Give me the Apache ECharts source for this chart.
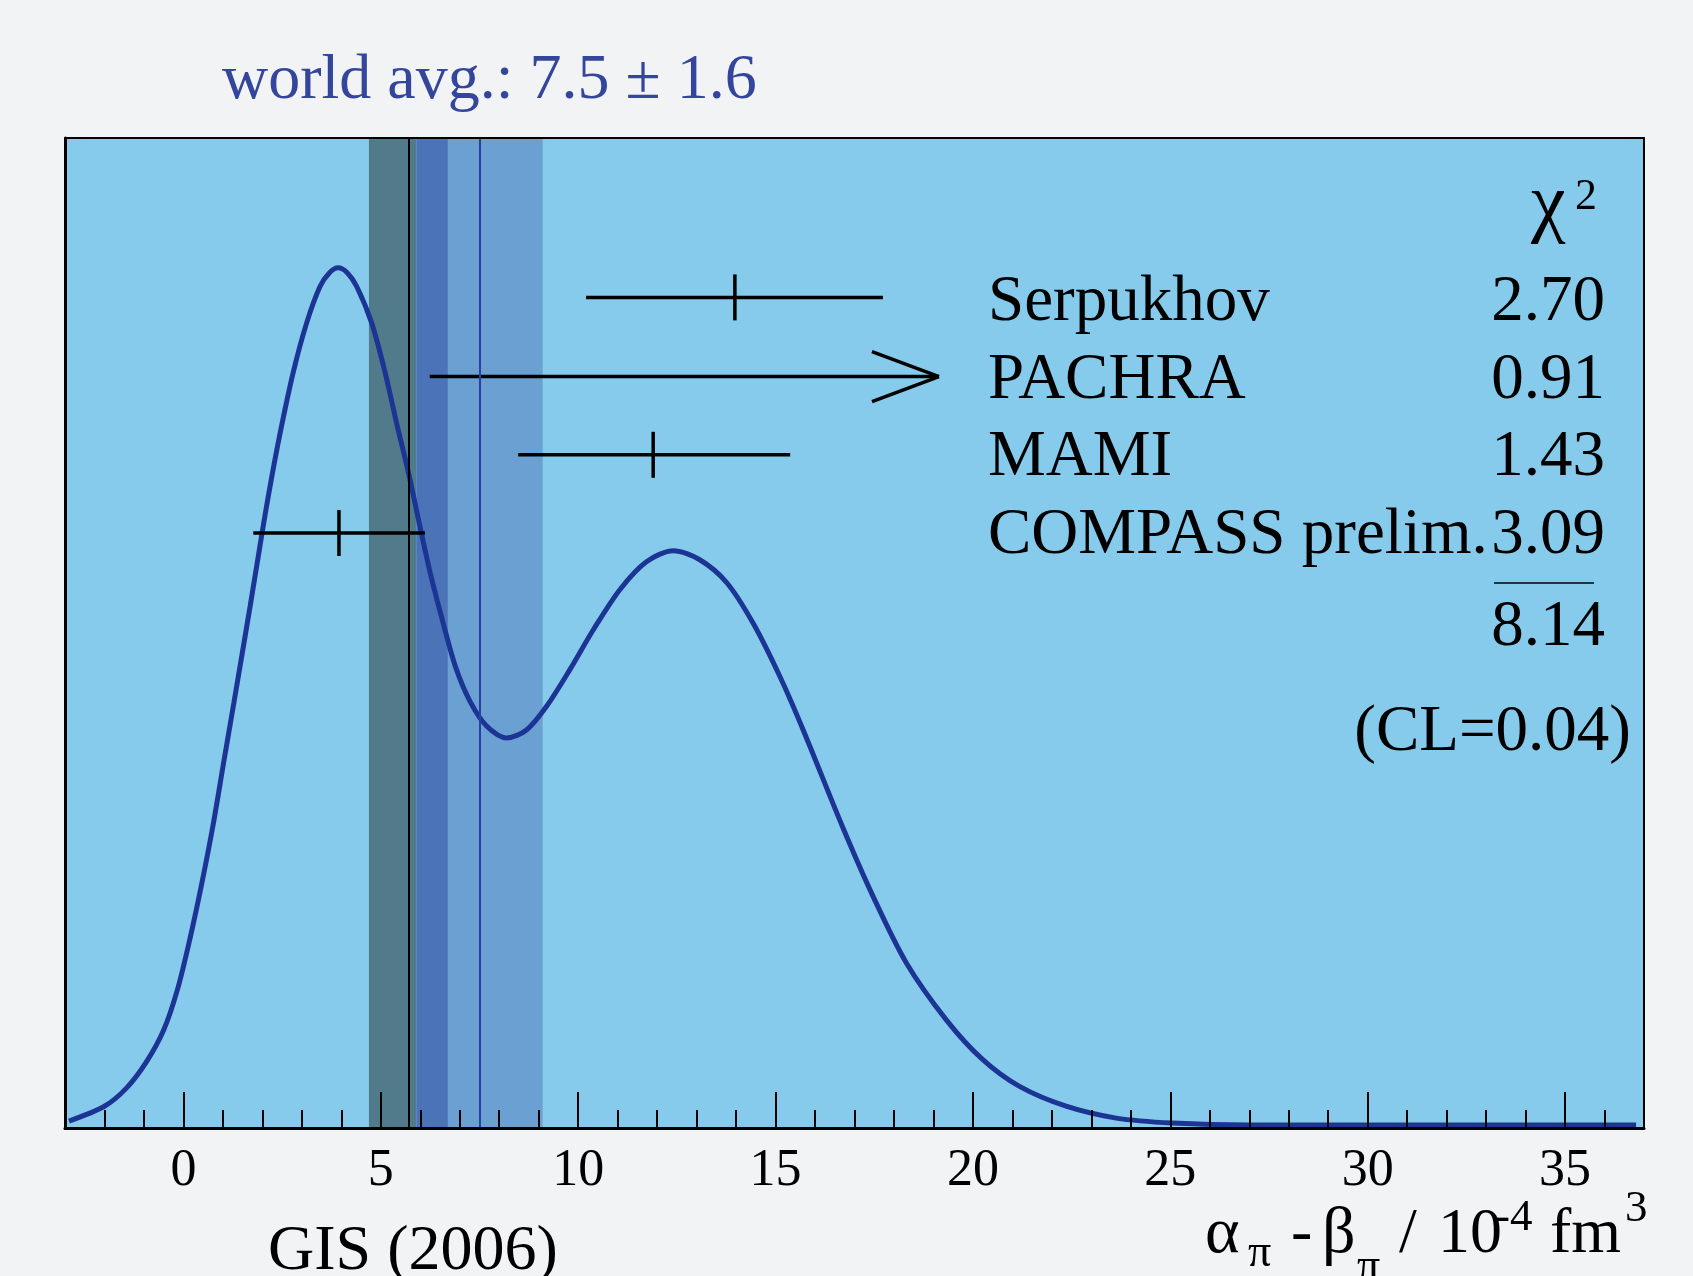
<!DOCTYPE html>
<html>
<head>
<meta charset="utf-8">
<title>alpha - beta, GIS (2006)</title>
<script src="https://cdn.jsdelivr.net/npm/echarts@6/dist/echarts.min.js"></script>
<style>
  html, body { margin: 0; padding: 0; background: #f2f3f5; }
  #chart { width: 1693px; height: 1276px; }
</style>
</head>
<body>
<div id="chart"></div>
<script>
// frame range
const xMin = -3
const xMax = 37

// probability curve
const curveX = [-2.9, -2.0, -1.45, -0.95, -0.5, -0.15, 0.17, 0.47, 0.76, 1.01, 1.28, 1.69, 1.98, 2.18, 2.45, 2.78, 3.12, 3.46, 3.7, 3.92, 4.15, 4.39, 4.77, 5.11, 5.4, 5.7, 5.99, 6.25, 6.58, 6.9, 7.26, 7.68, 8.19, 8.69, 9.2, 9.79, 10.38, 11.06, 11.73, 12.41, 13.08, 13.76, 14.43, 15.11, 15.7, 16.71, 17.47, 18.31, 19.33, 20.25, 21.18, 22.36, 23.63, 25.06, 27, 30, 33, 36.8]
const curveY = [0.007, 0.022, 0.040, 0.066, 0.099, 0.140, 0.192, 0.248, 0.308, 0.367, 0.430, 0.527, 0.598, 0.645, 0.702, 0.763, 0.813, 0.850, 0.864, 0.869, 0.864, 0.850, 0.813, 0.763, 0.712, 0.662, 0.608, 0.561, 0.510, 0.465, 0.431, 0.406, 0.394, 0.402, 0.426, 0.463, 0.503, 0.544, 0.572, 0.583, 0.574, 0.551, 0.510, 0.456, 0.402, 0.303, 0.234, 0.167, 0.109, 0.069, 0.042, 0.022, 0.010, 0.005, 0.003, 0.003, 0.003, 0.003]

// GIS (2006) result and world average band
const gisValue = 5.7
const gisBand = [4.7, 6.7]
const worldAvg = 7.5
const worldBand = [5.9, 9.1]

// experiments: error bars
const expNames = ['Serpukhov', 'PACHRA', 'MAMI', 'COMPASS prelim.']
const expCentre = [13.97, 11.9, 3.94]
const expLow = [10.2, 8.48, 1.77]
const expHigh = [17.72, 15.37, 6.12]
const expRow = [0.839, 0.680, 0.601]
// PACHRA only has a lower edge, drawn as an arrow
const arrowFrom = [6.24, 0.759]
const arrowTo = [19.14, 0.759]

// chi2 table
const chi2Values = ['2.70', '0.91', '1.43', '3.09']
const chi2Total = '8.14'
const clText = '(CL=0.04)'

// tick labels
const majorTicks = [0, 5, 10, 15, 20, 25, 30, 35]
const minorTicks = []
for (let v = xMin + 1; v < xMax; v++) {
  if (v % 5 !== 0) minorTicks.push(v)
}

const FONT = '"Liberation Serif", "Times New Roman", serif'

const chart = echarts.init(document.getElementById('chart'), null, { renderer: 'canvas' })

// text placed by its baseline
const txt = (text, x, baseline, size, align, color) => ({
  type: 'text',
  x: x,
  y: baseline - 0.3 * size,
  style: {
    text: text,
    fontFamily: FONT,
    fontSize: size,
    fill: color || '#000',
    align: align || 'left',
    verticalAlign: 'middle'
  },
  z: 100
})

const bandColours = {
  gisOnly: '#517a8b',
  both: '#4b74b8',
  worldOnly: '#6aa1d2'
}
const bandData = [
  [gisBand[0], worldBand[0], 'gisOnly'],
  [worldBand[0], gisBand[1], 'both'],
  [gisBand[1], worldBand[1], 'worldOnly']
]

const option = {
  backgroundColor: '#f2f3f5',
  animation: false,
  grid: {
    left: 65,
    right: 49,
    top: 138,
    bottom: 148,
    show: true,
    backgroundColor: '#86cbeb',
    borderWidth: 0
  },
  xAxis: [
    {
      type: 'value',
      min: xMin,
      max: xMax,
      position: 'bottom',
      z: 10,
      axisLine: { show: true, onZero: false, lineStyle: { color: '#000', width: 3 } },
      axisTick: { show: true, inside: true, length: 36, customValues: majorTicks, lineStyle: { color: '#000', width: 2 } },
      axisLabel: { show: true, customValues: majorTicks, margin: 17, fontFamily: FONT, fontSize: 52, color: '#000' },
      splitLine: { show: false }
    },
    {
      type: 'value',
      min: xMin,
      max: xMax,
      position: 'bottom',
      z: 10,
      axisLine: { show: false },
      axisTick: { show: true, inside: true, length: 18, customValues: minorTicks, lineStyle: { color: '#000', width: 2 } },
      axisLabel: { show: false },
      splitLine: { show: false }
    },
    {
      type: 'value',
      min: xMin,
      max: xMax,
      position: 'top',
      z: 10,
      axisLine: { show: true, onZero: false, lineStyle: { color: '#000', width: 2 } },
      axisTick: { show: false },
      axisLabel: { show: false },
      splitLine: { show: false }
    }
  ],
  yAxis: [
    {
      type: 'value',
      min: 0,
      max: 1,
      position: 'left',
      z: 10,
      axisLine: { show: true, onZero: false, lineStyle: { color: '#000', width: 3 } },
      axisTick: { show: false },
      axisLabel: { show: false },
      splitLine: { show: false }
    },
    {
      type: 'value',
      min: 0,
      max: 1,
      position: 'right',
      z: 10,
      axisLine: { show: true, onZero: false, lineStyle: { color: '#000', width: 2 } },
      axisTick: { show: false },
      axisLabel: { show: false },
      splitLine: { show: false }
    }
  ],
  series: [
    {
      // bands: GIS (2006) +- error and world average +- error
      type: 'custom',
      z: 1,
      silent: true,
      encode: { x: [0, 1] },
      data: bandData,
      renderItem: (params, api) => {
        const a = api.coord([api.value(0), 1])
        const b = api.coord([api.value(1), 0])
        return {
          type: 'rect',
          shape: { x: a[0], y: a[1], width: b[0] - a[0], height: b[1] - a[1] },
          style: { fill: bandColours[bandData[params.dataIndex][2]] }
        }
      },
      markLine: {
        silent: true,
        symbol: 'none',
        label: { show: false },
        data: [
          { xAxis: gisValue, lineStyle: { color: '#000', width: 2, type: 'solid' } },
          { xAxis: worldAvg, lineStyle: { color: '#2a3f9f', width: 2, type: 'solid' } }
        ]
      }
    },
    {
      type: 'line',
      z: 3,
      silent: true,
      data: curveX.map((x, i) => [x, curveY[i]]),
      smooth: 0.3,
      showSymbol: false,
      lineStyle: { color: '#1c3595', width: 5 }
    },
    {
      // error bars with a tick at the centre
      type: 'custom',
      z: 4,
      silent: true,
      encode: { x: [1, 2], y: 3 },
      data: expCentre.map((c, i) => [c, expLow[i], expHigh[i], expRow[i]]),
      renderItem: (params, api) => {
        const lo = api.coord([api.value(1), api.value(3)])
        const hi = api.coord([api.value(2), api.value(3)])
        const mid = api.coord([api.value(0), api.value(3)])
        return {
          type: 'group',
          children: [
            { type: 'line', shape: { x1: lo[0], y1: lo[1], x2: hi[0], y2: hi[1] }, style: { stroke: '#000', lineWidth: 3.5 } },
            { type: 'line', shape: { x1: mid[0], y1: mid[1] - 23, x2: mid[0], y2: mid[1] + 23 }, style: { stroke: '#000', lineWidth: 3.5 } }
          ]
        }
      }
    },
    {
      // PACHRA arrow
      type: 'custom',
      z: 4,
      silent: true,
      encode: { x: [0, 2], y: 1 },
      data: [[arrowFrom[0], arrowFrom[1], arrowTo[0], arrowTo[1]]],
      renderItem: (params, api) => {
        const p0 = api.coord([api.value(0), api.value(1)])
        const p1 = api.coord([api.value(2), api.value(3)])
        const s = { stroke: '#000', lineWidth: 3.5 }
        return {
          type: 'group',
          children: [
            { type: 'line', shape: { x1: p0[0], y1: p0[1], x2: p1[0], y2: p1[1] }, style: s },
            { type: 'line', shape: { x1: p1[0] - 67, y1: p1[1] - 25, x2: p1[0], y2: p1[1] }, style: s },
            { type: 'line', shape: { x1: p1[0] - 67, y1: p1[1] + 25, x2: p1[0], y2: p1[1] }, style: s }
          ]
        }
      }
    }
  ],
  graphic: [
    txt('world avg.: 7.5 \u00b1 1.6', 222, 100, 64, 'left', '#34469c'),
    txt('GIS (2006)', 268, 1271, 64),

    // axis title: alpha_pi - beta_pi / 10^-4 fm^3
    txt('\u03b1', 1205, 1254, 66),
    txt('\u03c0', 1248, 1268, 46),
    txt('-', 1291, 1254, 64),
    txt('\u03b2', 1322, 1254, 66),
    txt('\u03c0', 1357, 1282, 46),
    txt('/', 1399, 1254, 64),
    txt('10', 1438, 1254, 64),
    txt('-4', 1495, 1232, 45),
    txt('fm', 1550, 1254, 64),
    txt('3', 1625, 1223, 45),

    // chi2 table
    txt('\u03c7', 1531, 230, 78),
    txt('2', 1575, 211, 44),
    txt(expNames[0], 988, 322, 65),
    txt(expNames[1], 988, 400, 65),
    txt(expNames[2], 988, 477, 65),
    txt(expNames[3], 988, 555, 65),
    txt(chi2Values[0], 1605, 322, 65, 'right'),
    txt(chi2Values[1], 1605, 400, 65, 'right'),
    txt(chi2Values[2], 1605, 477, 65, 'right'),
    txt(chi2Values[3], 1605, 555, 65, 'right'),
    {
      type: 'line',
      shape: { x1: 1494, y1: 583, x2: 1594, y2: 583 },
      style: { stroke: '#000', lineWidth: 1.5 },
      z: 100
    },
    txt(chi2Total, 1605, 647, 65, 'right'),
    txt(clText, 1631, 752, 65, 'right')
  ]
}

chart.setOption(option)
window.addEventListener('resize', chart.resize)
</script>
</body>
</html>
